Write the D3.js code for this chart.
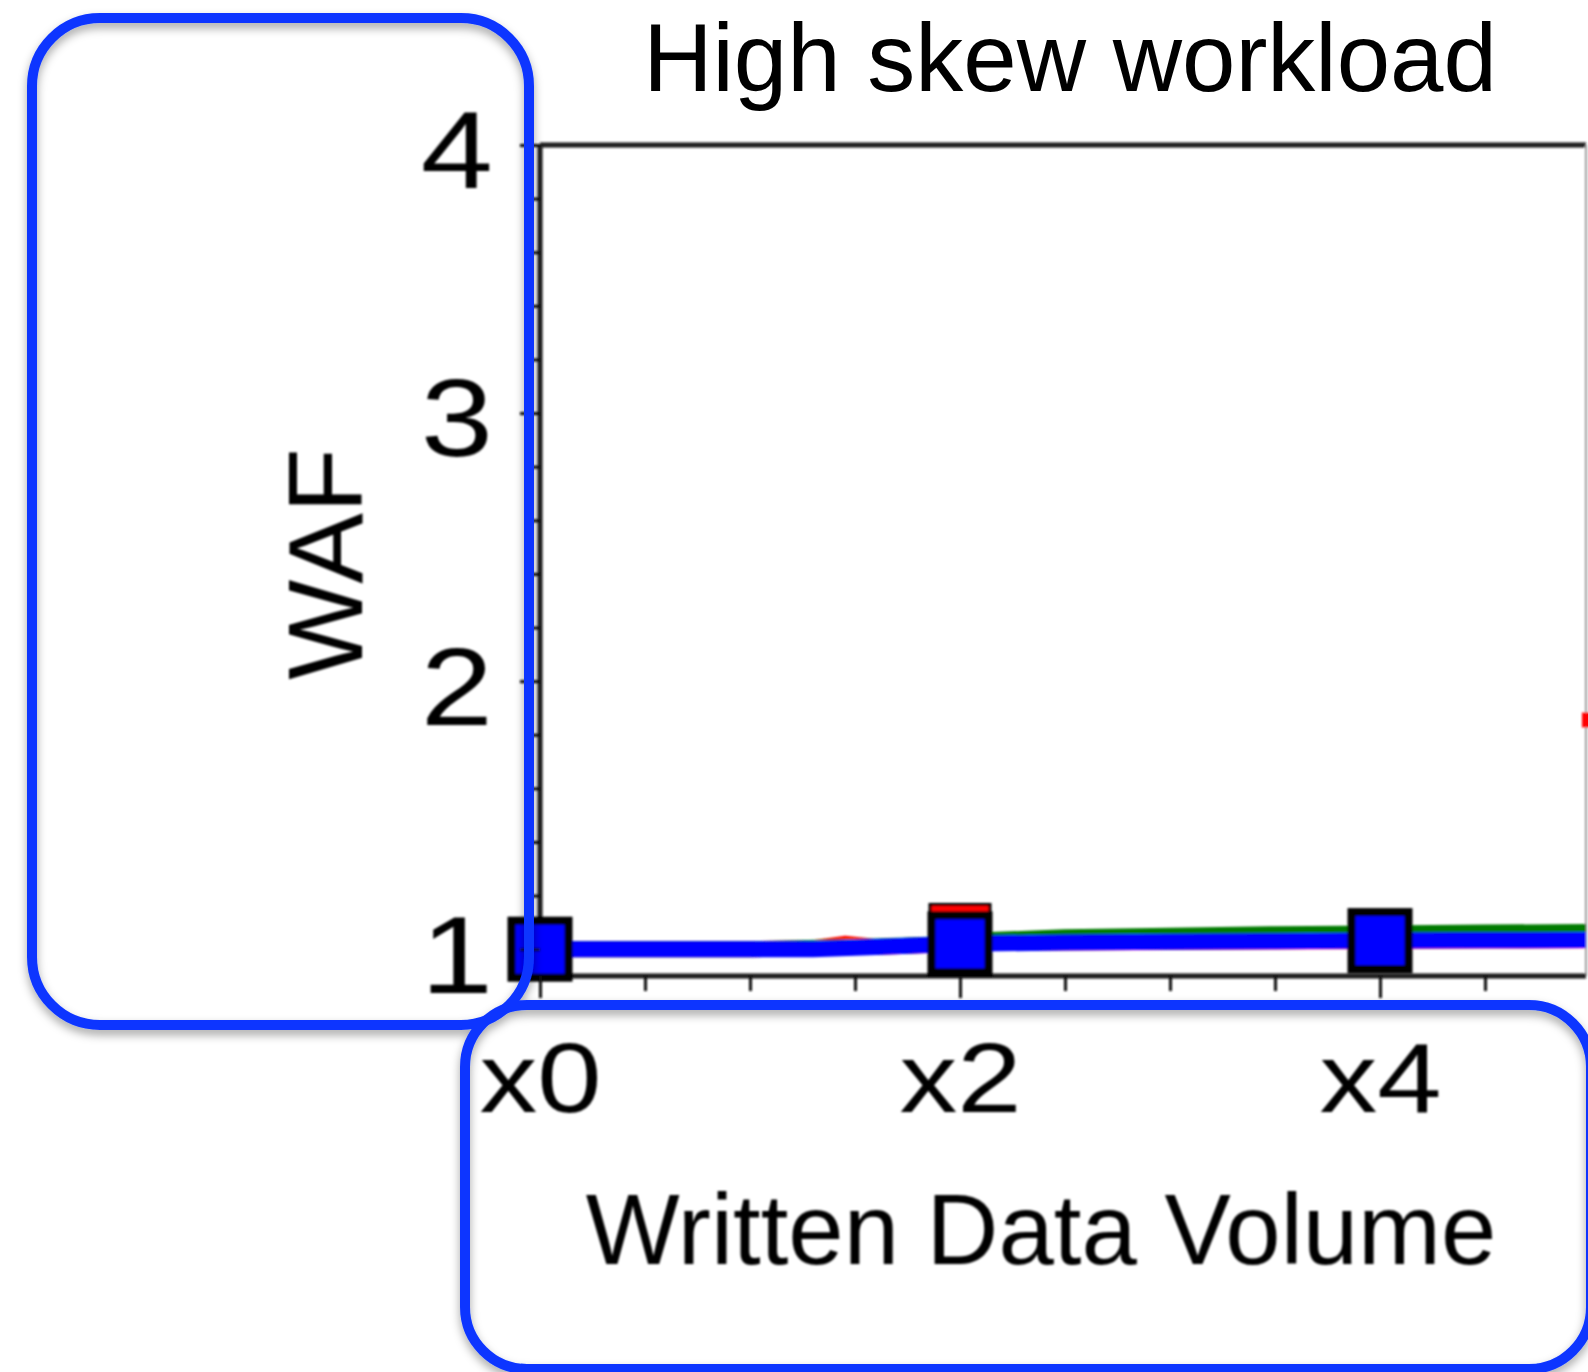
<!DOCTYPE html>
<html>
<head>
<meta charset="utf-8">
<script src="https://cdn.jsdelivr.net/npm/d3@7"></script>
<style>
  html, body { margin: 0; padding: 0; background: #fff; }
  svg { display: block; }
</style>
</head>
<body>
<svg id="chart" width="1588" height="1372"></svg>
<script>
// ---- data ----
const chartTitle = "High skew workload";
const xAxisTitle = "Written Data Volume";
const yAxisTitle = "WAF";

const xTickValues = [0, 2, 4];
const xTickLabels = ["x0", "x2", "x4"];
const xMinorTicks = [0.5, 1, 1.5, 2.5, 3, 3.5, 4.5];
const yTickValues = [1, 2, 3, 4];
const yTickLabels = ["1", "2", "3", "4"];
const yMinorTicks = [1.2, 1.4, 1.6, 1.8, 2.2, 2.4, 2.6, 2.8, 3.2, 3.4, 3.6, 3.8];

const redVolume = [0, 0.5, 1, 1.3, 1.45, 1.6, 1.85, 2, 2.15, 2.5, 3, 3.5, 4, 4.5, 5];
const redWaf    = [1.0, 1.0, 1.0, 1.004, 1.02, 1.008, 1.016, 1.055, 1.024, 1.025, 1.027, 1.029, 1.031, 1.032, 1.033];
const redMarkerVolume = [2];

const greenVolume = [0, 1, 1.5, 2, 2.15, 2.5, 3, 3.5, 4, 4.5, 5];
const greenWaf    = [1.0, 1.0, 1.008, 1.02, 1.034, 1.045, 1.05, 1.056, 1.059, 1.062, 1.064];

const blueVolume = [0, 0.5, 1, 1.3, 1.6, 1.85, 2, 2.5, 3, 3.5, 4, 4.5, 5];
const blueWaf    = [1.0, 1.0, 1.0, 1.0, 1.008, 1.016, 1.02, 1.025, 1.028, 1.03, 1.032, 1.033, 1.034];
const blueMarkerVolume = [0, 2, 4];

// ---- layout ----
const W = 1588, H = 1372;
const plot = { left: 540, right: 1586, top: 145, bottom: 976 };

const svg = d3.select("#chart");
const defs = svg.append("defs");

defs.append("filter").attr("id", "soft")
  .attr("x", "-5%").attr("y", "-5%").attr("width", "110%").attr("height", "110%")
  .append("feGaussianBlur").attr("stdDeviation", 1.3);

const shadow = defs.append("filter").attr("id", "shadow")
  .attr("x", "-10%").attr("y", "-10%").attr("width", "120%").attr("height", "120%");
shadow.append("feDropShadow")
  .attr("dx", 0).attr("dy", 5).attr("stdDeviation", 5)
  .attr("flood-color", "#000").attr("flood-opacity", 0.35);

svg.append("rect").attr("width", W).attr("height", H).attr("fill", "#fff");

const x = d3.scaleLinear().domain([0, 5]).range([plot.left, 1590]);
const y = d3.scaleLinear().domain([0.9, 4]).range([plot.bottom, plot.top]);

const FONT = "'Liberation Sans', Arial, Helvetica, sans-serif";
const LINE_W = 16;

// soft-rendered figure body
const fig = svg.append("g").attr("filter", "url(#soft)");

// frame
fig.append("line").attr("x1", plot.left).attr("x2", plot.right)
  .attr("y1", plot.top).attr("y2", plot.top)
  .attr("stroke", "#1a1a1a").attr("stroke-width", 5);
fig.append("line").attr("x1", plot.right).attr("x2", plot.right)
  .attr("y1", plot.top).attr("y2", plot.bottom)
  .attr("stroke", "#9a9a9a").attr("stroke-width", 2);

// series lines
const line = d3.line().x(d => x(d[0])).y(d => y(d[1]));
const clip = defs.append("clipPath").attr("id", "plotClip");
clip.append("rect").attr("x", plot.left - 40).attr("y", plot.top)
  .attr("width", plot.right - plot.left + 40).attr("height", plot.bottom - plot.top);

const lines = fig.append("g").attr("clip-path", "url(#plotClip)");
const series = [
  { vol: redVolume, waf: redWaf, color: "#ff0000" },
  { vol: greenVolume, waf: greenWaf, color: "#007a00" },
  { vol: blueVolume, waf: blueWaf, color: "#0000ff" }
];
function pts(s) { return s.vol.map((v, i) => [v, s.waf[i]]); }
function wafAt(s, v) { return s.waf[s.vol.indexOf(v)]; }

// red line and its markers sit underneath
lines.append("path").datum(pts(series[0]))
  .attr("d", line).attr("fill", "none")
  .attr("stroke", series[0].color).attr("stroke-width", LINE_W)
  .attr("stroke-linejoin", "round");
lines.append("path").datum(pts(series[1]))
  .attr("d", line).attr("fill", "none")
  .attr("stroke", series[1].color).attr("stroke-width", LINE_W)
  .attr("stroke-linejoin", "round");
lines.selectAll("rect.red").data(redMarkerVolume).join("rect")
  .attr("class", "red")
  .attr("x", v => x(v) - 30).attr("y", v => y(wafAt(series[0], v)) - 30)
  .attr("width", 60).attr("height", 60)
  .attr("fill", series[0].color).attr("stroke", "#000").attr("stroke-width", 3);
lines.append("path").datum(pts(series[2]))
  .attr("d", line).attr("fill", "none")
  .attr("stroke", series[2].color).attr("stroke-width", LINE_W)
  .attr("stroke-linejoin", "round");

// bottom axis line
fig.append("line").attr("x1", plot.left).attr("x2", plot.right)
  .attr("y1", plot.bottom).attr("y2", plot.bottom)
  .attr("stroke", "#1a1a1a").attr("stroke-width", 5);
// left axis line
fig.append("line").attr("x1", plot.left).attr("x2", plot.left)
  .attr("y1", plot.top).attr("y2", plot.bottom)
  .attr("stroke", "#1a1a1a").attr("stroke-width", 5);

// blue markers on top
fig.selectAll("rect.blue").data(blueMarkerVolume).join("rect")
  .attr("class", "blue")
  .attr("x", v => x(v) - 28.5).attr("y", v => y(wafAt(series[2], v)) - 28.5)
  .attr("width", 57).attr("height", 57)
  .attr("fill", "#0000ff").attr("stroke", "#000").attr("stroke-width", 8);

// red legend key at the right edge
fig.append("line")
  .attr("x1", 1582).attr("x2", 1650).attr("y1", 720).attr("y2", 720)
  .attr("stroke", series[0].color).attr("stroke-width", 15);

// axes
const xMajor = fig.append("g").attr("transform", `translate(0,${plot.bottom})`)
  .call(d3.axisBottom(x).tickValues(xTickValues)
    .tickFormat((d, i) => xTickLabels[i]).tickSize(22).tickPadding(0));
const xMinor = fig.append("g").attr("transform", `translate(0,${plot.bottom})`)
  .call(d3.axisBottom(x).tickValues(xMinorTicks).tickFormat("").tickSize(15));
const yMajor = fig.append("g").attr("transform", `translate(${plot.left},0)`)
  .call(d3.axisLeft(y).tickValues(yTickValues)
    .tickFormat((d, i) => yTickLabels[i]).tickSize(20));
const yMinor = fig.append("g").attr("transform", `translate(${plot.left},0)`)
  .call(d3.axisLeft(y).tickValues(yMinorTicks).tickFormat("").tickSize(8));

[xMajor, xMinor, yMajor, yMinor].forEach(g => {
  g.select(".domain").remove();
  g.selectAll(".tick line").attr("stroke", "#111").attr("stroke-width", 3);
});

const tickStretch = 1.18;
xMajor.selectAll(".tick text")
  .attr("font-family", FONT).attr("font-size", 98).attr("fill", "#000")
  .attr("y", 136).attr("dy", 0)
  .attr("transform", `scale(${tickStretch},1)`);
yMajor.selectAll(".tick text")
  .attr("font-family", FONT).attr("font-size", 110).attr("fill", "#000")
  .attr("x", -47 / tickStretch).attr("dy", "0.39em")
  .attr("transform", `scale(${tickStretch},1)`);

// axis titles
fig.append("text")
  .attr("transform", "translate(362,564) rotate(-90)")
  .attr("text-anchor", "middle")
  .attr("font-family", FONT).attr("font-size", 106).attr("fill", "#000")
  .text(yAxisTitle);
fig.append("text")
  .attr("x", 1041).attr("y", 1264).attr("text-anchor", "middle")
  .attr("font-family", FONT).attr("font-size", 99.5).attr("fill", "#000")
  .text(xAxisTitle);

// chart title
svg.append("text")
  .attr("x", 1070).attr("y", 91).attr("text-anchor", "middle")
  .attr("font-family", FONT).attr("font-size", 96).attr("fill", "#000")
  .text(chartTitle);

// highlight frames around the axis areas
const boxes = svg.append("g").attr("filter", "url(#shadow)");
boxes.append("rect")
  .attr("x", 32).attr("y", 18).attr("width", 497).attr("height", 1007)
  .attr("rx", 68).attr("ry", 68)
  .attr("fill", "none").attr("stroke", "#0b36ff").attr("stroke-width", 10);
boxes.append("rect")
  .attr("x", 465).attr("y", 1005).attr("width", 1126).attr("height", 364)
  .attr("rx", 62).attr("ry", 62)
  .attr("fill", "none").attr("stroke", "#0b36ff").attr("stroke-width", 10);
</script>
</body>
</html>
